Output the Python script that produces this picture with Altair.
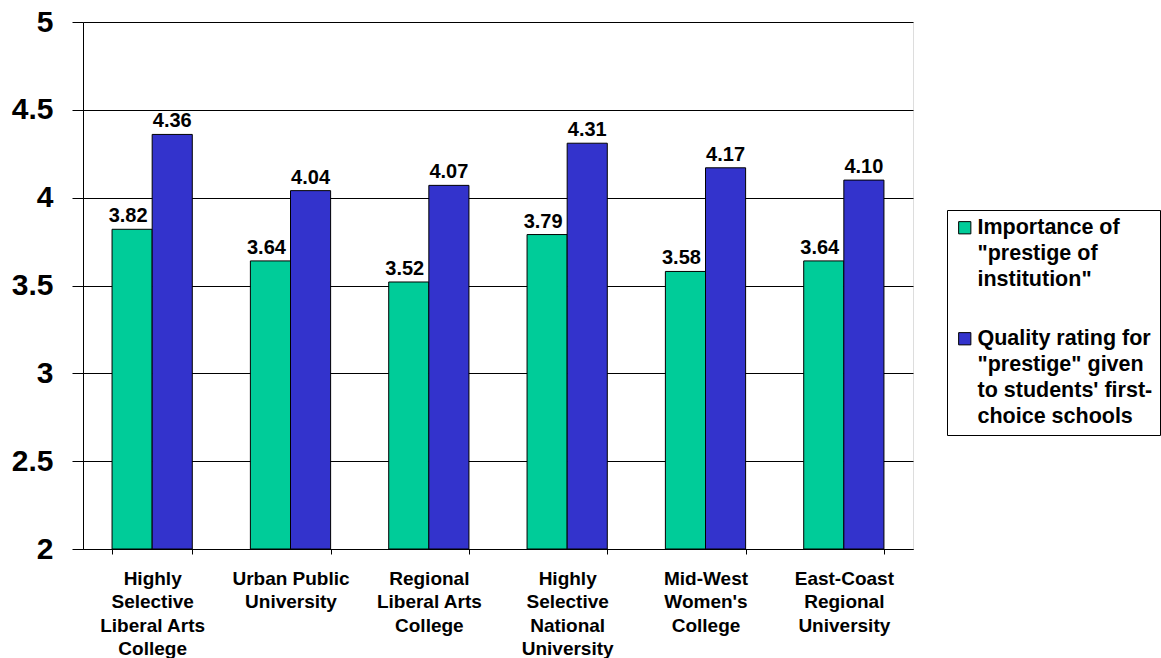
import altair as alt
import pandas as pd

schools = [
    "Highly|Selective|Liberal Arts|College",
    "Urban Public|University",
    "Regional|Liberal Arts|College",
    "Highly|Selective|National|University",
    "Mid-West|Women's|College",
    "East-Coast|Regional|University",
]
importance = [3.82, 3.64, 3.52, 3.79, 3.58, 3.64]
quality = [4.36, 4.04, 4.07, 4.31, 4.17, 4.10]
series = [
    'Importance of|"prestige of|institution"',
    " Quality rating for|\"prestige\" given|to students' first-|choice schools",
]
colors = ["#00CC99", "#3333CC"]
y_ticks = [2, 2.5, 3, 3.5, 4, 4.5, 5]
y_floor = 2

rows = []
for s, a, b in zip(schools, importance, quality):
    rows.append({"school": s, "series": series[0], "value": a})
    rows.append({"school": s, "series": series[1], "value": b})
df = pd.DataFrame(rows)

FONT = "Liberation Sans"

x_enc = alt.X(
    "school:N",
    sort=schools,
    scale=alt.Scale(paddingInner=0.42, paddingOuter=0.21),
    axis=alt.Axis(
        title=None, labelAngle=0, labelExpr="split(datum.label, '|')",
        tickBand="extent", labelFontSize=19, labelFont=FONT, labelFontWeight="bold",
        labelColor="black", tickColor="black", domainColor="black", tickSize=5,
        labelPadding=15, labelLineHeight=23.5, grid=False, labelBaseline="top",
    ),
)
y_enc = alt.Y(
    "value:Q",
    scale=alt.Scale(domain=[2, 5], nice=False, zero=False),
    axis=alt.Axis(
        title=None, values=y_ticks, format="~g", labelFontSize=30, labelFont=FONT,
        labelFontWeight="bold", labelColor="black", grid=True, gridColor="black",
        gridOpacity=1, tickColor="black", domainColor="black", tickSize=11,
        labelPadding=19,
    ),
)
xoff = alt.XOffset("series:N", sort=series)

bars = alt.Chart(df).mark_bar(stroke="black", strokeWidth=1).encode(
    x=x_enc, y=y_enc, y2=alt.datum(y_floor), xOffset=xoff,
    color=alt.Color(
        "series:N", sort=series,
        scale=alt.Scale(domain=series, range=colors),
        legend=alt.Legend(
            title=None, orient="none", legendX=864, legendY=188,
            labelExpr="split(datum.label, '|')", labelFontSize=21.5, labelFont=FONT,
            labelFontWeight="bold", labelColor="black", symbolType="square",
            symbolSize=150, symbolStrokeColor="black", symbolStrokeWidth=1,
            symbolOpacity=1, strokeColor="black", padding=7, rowPadding=36,
            labelOffset=2, labelLimit=400,
        ),
    ),
)

text_base = alt.Chart(df).encode(
    x=x_enc, y=y_enc, xOffset=xoff, text=alt.Text("value:Q", format=".2f")
)
text_green = text_base.transform_filter(alt.datum.series == series[0]).mark_text(
    baseline="bottom", dy=-3, dx=-4, fontSize=20, fontWeight="bold", font=FONT, color="black"
)
text_blue = text_base.transform_filter(alt.datum.series == series[1]).mark_text(
    baseline="bottom", dy=-3, fontSize=20, fontWeight="bold", font=FONT, color="black"
)

chart = (
    alt.layer(bars, text_green, text_blue)
    .properties(
        width=830, height=527,
        autosize=alt.AutoSizeParams(type="none"),
        padding={"left": 83, "top": 22, "right": 248, "bottom": 109},
        background="white",
    )
    .configure_view(stroke="#555555", strokeWidth=1)
    .configure(font=FONT, style={"guide-label": {"lineHeight": 26}})
)

chart.save("out.html", embed_options={"renderer": "svg", "actions": False})
